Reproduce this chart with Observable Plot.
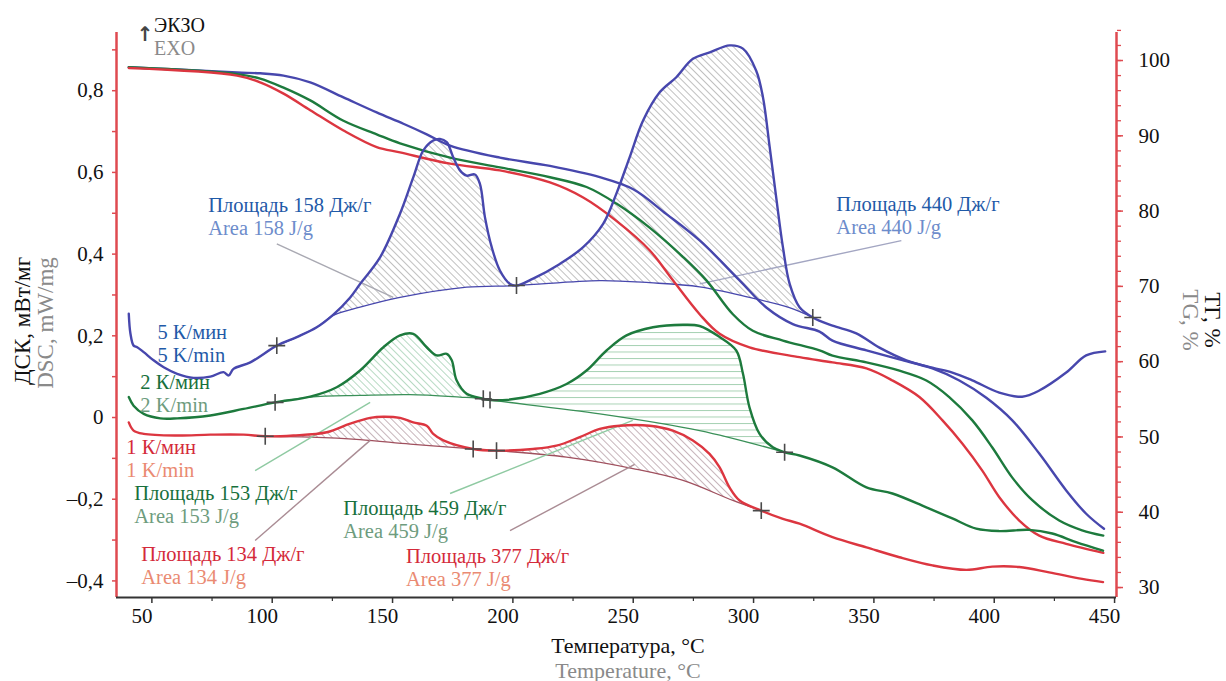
<!DOCTYPE html>
<html><head><meta charset="utf-8">
<script src="https://cdn.jsdelivr.net/npm/d3@7"></script>
<script src="https://cdn.jsdelivr.net/npm/@observablehq/plot@0.6"></script>
<style>
body{margin:0;background:#fff}
svg{font-family:"Liberation Serif","Times New Roman",serif}
</style>
</head><body><div id="chart"></div>
<script>
// ---------- DATA (temperature °C, value) ----------
// DSC, mW/mg
const dsc5 = [[40.4,0.254],[41.1,0.205],[42.4,0.176],[43.9,0.172],[46.6,0.160],[50.7,0.140],[54.9,0.123],[60.5,0.107],[67.3,0.097],[74.3,0.100],[79.8,0.111],[81.9,0.103],[83.9,0.119],[90.9,0.135],[101.9,0.176],[110.2,0.197],[118.5,0.221],[125.4,0.252],[132.4,0.294],[136.5,0.327],[144.8,0.392],[153.1,0.499],[158.6,0.588],[162.8,0.654],[166.9,0.678],[169.7,0.682],[172.5,0.674],[175.2,0.637],[178.0,0.605],[180.8,0.592],[184.2,0.595],[186.3,0.572],[188.4,0.490],[191.2,0.417],[194.6,0.360],[198.8,0.327],[201.5,0.323],[208.4,0.340],[219.5,0.376],[229.2,0.417],[237.5,0.474],[243.0,0.548],[248.5,0.637],[254.1,0.727],[261.0,0.796],[267.9,0.833],[274.8,0.878],[281.8,0.894],[290.1,0.911],[295.6,0.903],[301.1,0.849],[303.9,0.784],[306.7,0.662],[309.4,0.539],[312.2,0.417],[315.0,0.327],[319.1,0.270],[324.6,0.245],[332.8,0.225],[342.7,0.206],[352.3,0.171],[363.5,0.140],[374.3,0.122],[382.6,0.110],[390.9,0.091],[402.1,0.061],[411.6,0.051],[418.7,0.066],[429.9,0.110],[438.2,0.152],[446.1,0.162]];
const base5 = [[101.9,0.176],[110.2,0.197],[118.5,0.221],[125.4,0.250],[136.5,0.270],[153.1,0.294],[180.8,0.319],[201.5,0.323],[236.1,0.335],[256.8,0.330],[277.6,0.320],[298.3,0.294],[314.9,0.269],[324.6,0.245]];
const dsc2 = [[40.4,0.050],[42.4,0.029],[46.6,0.009],[53.5,-0.002],[60.5,-0.002],[74.3,0.005],[88.1,0.021],[101.2,0.037],[115.8,0.051],[126.8,0.074],[136.5,0.115],[146.2,0.172],[153.1,0.201],[158.6,0.205],[164.2,0.172],[168.3,0.152],[172.5,0.156],[174.6,0.140],[176.6,0.091],[180.8,0.058],[187.7,0.046],[190.5,0.043],[197.4,0.043],[211.2,0.058],[222.3,0.082],[230.6,0.115],[238.9,0.164],[247.2,0.201],[258.2,0.221],[270.7,0.227],[277.6,0.224],[285.9,0.197],[292.8,0.164],[295.6,0.107],[298.3,0.025],[302.5,-0.040],[308.0,-0.073],[312.9,-0.085],[319.1,-0.093],[332.8,-0.122],[346.9,-0.171],[357.7,-0.186],[371.8,-0.220],[382.6,-0.247],[392.5,-0.272],[402.1,-0.278],[414.5,-0.275],[424.1,-0.284],[434.0,-0.305],[445.2,-0.326]];
const base2 = [[101.2,0.037],[115.8,0.050],[136.5,0.054],[157.3,0.056],[178.0,0.050],[187.7,0.046],[190.5,0.043],[236.1,0.009],[277.6,-0.032],[312.9,-0.085]];
const dsc1 = [[40.4,-0.012],[42.4,-0.032],[46.6,-0.040],[60.5,-0.044],[74.3,-0.042],[88.1,-0.042],[97.1,-0.046],[108.8,-0.044],[122.7,-0.036],[132.4,-0.015],[140.7,-0.001],[146.2,0.002],[153.1,-0.001],[158.6,-0.012],[164.2,-0.020],[166.9,-0.040],[171.1,-0.056],[183.5,-0.077],[193.2,-0.081],[208.4,-0.077],[218.1,-0.069],[227.8,-0.048],[236.1,-0.028],[244.4,-0.020],[256.8,-0.020],[266.5,-0.032],[274.8,-0.056],[281.7,-0.089],[285.9,-0.122],[290.0,-0.171],[294.2,-0.203],[303.2,-0.228],[312.2,-0.248],[319.1,-0.260],[332.8,-0.293],[346.9,-0.318],[360.6,-0.342],[374.3,-0.362],[388.4,-0.373],[399.2,-0.365],[410.4,-0.366],[422.8,-0.379],[436.5,-0.395],[445.2,-0.403]];
const base1 = [[97.1,-0.046],[115.8,-0.048],[136.5,-0.054],[157.3,-0.065],[183.5,-0.077],[193.2,-0.081],[222.3,-0.097],[249.9,-0.125],[270.7,-0.154],[291.4,-0.203],[303.2,-0.228]];

// TG, %
const tg5 = [[40.4,99.1],[60.5,98.8],[85.4,98.4],[95.0,98.3],[104.7,98.0],[115.8,97.1],[129.6,95.1],[143.4,93.1],[154.5,91.6],[164.2,90.2],[173.9,88.7],[194.6,87.1],[215.4,86.0],[236.1,84.5],[250.0,82.9],[263.8,79.6],[277.6,76.1],[294.2,70.8],[305.3,67.2],[316.3,65.0],[327.4,64.0],[332.8,62.8],[346.9,61.5],[360.6,60.3],[374.3,59.1],[385.5,57.5],[396.7,55.2],[407.5,52.2],[418.7,47.8],[429.9,42.9],[438.2,39.8],[445.6,37.8]];
const tg2 = [[40.4,99.1],[85.4,98.2],[95.0,97.6],[104.7,96.4],[115.8,94.7],[129.6,92.0],[143.4,90.2],[153.1,89.0],[173.9,87.1],[194.6,85.8],[215.4,84.5],[230.6,83.2],[243.0,81.0],[256.8,77.8],[270.7,73.9],[280.4,70.8],[291.4,66.3],[299.7,64.1],[312.2,62.8],[327.4,61.5],[332.8,60.8],[346.9,59.9],[360.6,58.8],[371.8,57.5],[381.3,55.3],[390.9,52.2],[399.2,48.6],[407.5,44.6],[415.8,41.6],[427.0,38.9],[436.5,37.6],[445.3,36.9]];
const tg1 = [[40.4,99.0],[85.4,98.0],[95.0,97.1],[104.7,95.6],[115.8,93.4],[129.6,90.7],[143.4,88.5],[153.1,87.8],[173.9,86.3],[194.6,85.4],[215.4,83.8],[229.2,81.8],[243.0,78.7],[256.8,74.8],[266.5,70.8],[277.6,66.3],[285.9,63.7],[298.3,61.9],[319.1,60.6],[332.8,59.9],[346.9,59.1],[357.7,57.5],[368.9,55.3],[378.5,52.2],[386.8,49.1],[395.1,45.5],[402.1,42.0],[410.4,38.9],[418.7,36.9],[429.9,35.8],[445.3,34.6]];

// integration limits (+ markers)
const limits5 = [[101.9,0.176],[201.5,0.323],[324.6,0.245]];
const limits2 = [[101.2,0.037],[187.7,0.046],[190.5,0.043],[312.9,-0.085]];
const limits1 = [[97.1,-0.046],[183.5,-0.077],[193.2,-0.081],[303.2,-0.228]];

// peak areas: [series, from °C, to °C, hatch]
const peakAreas = [
  ["5", 101.9, 201.5, "hGray"], ["5", 201.5, 324.6, "hGray"],
  ["2", 101.2, 187.7, "hGreen"], ["2", 190.5, 312.9, "hGreenH"],
  ["1", 97.1, 183.5, "hRed"], ["1", 193.2, 303.2, "hRed"]
];

// annotation texts [°C, DSC, text, colour]
const blueRu="#1f5aa8", blueEn="#6d8ccb", greenRu="#17703c", greenEn="#6e9c7e", redRu="#d42a3a", redEn="#ea8a72";
const labels = [
  [73.4,0.519,"Площадь 158 Дж/г",blueRu],[73.4,0.4627,"Area 158 J/g",blueEn],
  [334.4,0.5214,"Площадь 440 Дж/г",blueRu],[334.4,0.4651,"Area 440 J/g",blueEn],
  [52.3,0.2093,"5 К/мин",blueRu],[52.3,0.153,"5 K/min",blueRu],
  [45.2,0.0857,"2 К/мин",greenRu],[45.2,0.0294,"2 K/min",greenEn],
  [39.4,-0.0734,"1 К/мин",redRu],[39.4,-0.1297,"1 K/min",redEn],
  [42.7,-0.186,"Площадь 153 Дж/г",greenRu],[42.7,-0.2424,"Area 153 J/g",greenEn],
  [45.6,-0.3341,"Площадь 134 Дж/г",redRu],[45.6,-0.3905,"Area 134 J/g",redEn],
  [129.5,-0.2215,"Площадь 459 Дж/г",greenRu],[129.5,-0.2778,"Area 459 J/g",greenEn],
  [155.6,-0.339,"Площадь 377 Дж/г",redRu],[155.6,-0.3953,"Area 377 J/g",redEn]
];
// leader lines [°C1, DSC1, °C2, DSC2, colour]
const leaders = [
  [101.9,0.425,150.3,0.294,"#a9a9b2"],
  [361.4,0.433,277.6,0.327,"#a3a6c2"],
  [92.9,-0.130,140.7,0.037,"#8fcaa2"],
  [92.9,-0.301,140.7,-0.056,"#aa8c94"],
  [173.9,-0.186,249.8,-0.007,"#8fcaa2"],
  [198.8,-0.277,250.6,-0.115,"#aa8c94"]
];

// axes
const xTicks = [50,100,150,200,250,300,350,400,450];
const xMinor = [75,125,175,225,275,325,375,425];
const dscTicks = [-0.4,-0.2,0,0.2,0.4,0.6,0.8];
const dscMinor = [-0.4,-0.3,-0.2,-0.1,0,0.1,0.2,0.3,0.4,0.5,0.6,0.7,0.8,0.9];
const tgTicks = [30,40,50,60,70,80,90,100];
const tgMinor = d3.range(30, 105, 2);
const X_DOMAIN = [35.3, 450.8];
const Y_DOMAIN = [-0.4406, 0.9425];
const TG_RANGE = [30, 100], TG_IN_DSC = [-0.4162, 0.8739];

// ---------- CHART ----------
const tg2d = d3.scaleLinear().domain(TG_RANGE).range(TG_IN_DSC);
const cBlue="#4747ad", cGreen="#1d7a3d", cRed="#dc3640", axisRed="#df4a50";
const series = {"5": [dsc5, base5], "2": [dsc2, base2], "1": [dsc1, base1]};
function polygon([s, a, b]) {
  const [curve, base] = series[s];
  const inR = d => d[0] >= a - 1e-9 && d[0] <= b + 1e-9;
  return curve.filter(inR).concat(base.filter(inR).reverse());
}
const X = d => d[0], Y = d => d[1];
const fmtDsc = d => d === 0 ? "0" : (d < 0 ? "–" : "") + Math.abs(d).toFixed(1).replace(".", ",");

const plot = Plot.plot({
  width: 1226, height: 681,
  marginLeft: 116, marginRight: 110, marginTop: 32, marginBottom: 84,
  style: {fontFamily: '"Liberation Serif", serif', fontSize: "21px", background: "#fff", color: "#111", overflow: "visible"},
  x: {domain: X_DOMAIN, axis: null},
  y: {domain: Y_DOMAIN, axis: null},
  color: {type: "identity"},
  marks: [
    ...peakAreas.map(p => Plot.line(polygon(p), {x: X, y: Y, fill: `url(#${p[3]})`, stroke: "none", curve: "linear"})),
    Plot.line(base5, {x: X, y: Y, stroke: cBlue, strokeWidth: 1.3, curve: "catmull-rom"}),
    Plot.line(base2, {x: X, y: Y, stroke: "#3a9058", strokeWidth: 1.3, curve: "catmull-rom"}),
    Plot.line(base1, {x: X, y: Y, stroke: "#a0505e", strokeWidth: 1.3, curve: "catmull-rom"}),
    Plot.link(leaders, {x1: d => d[0], y1: d => d[1], x2: d => d[2], y2: d => d[3], stroke: d => d[4], strokeWidth: 1.4}),
    Plot.line(tg5, {x: X, y: d => tg2d(d[1]), stroke: cBlue, strokeWidth: 2.4, curve: "catmull-rom"}),
    Plot.line(tg2, {x: X, y: d => tg2d(d[1]), stroke: cGreen, strokeWidth: 2.4, curve: "catmull-rom"}),
    Plot.line(tg1, {x: X, y: d => tg2d(d[1]), stroke: cRed, strokeWidth: 2.4, curve: "catmull-rom"}),
    Plot.line(dsc5, {x: X, y: Y, stroke: cBlue, strokeWidth: 2.4, curve: "catmull-rom"}),
    Plot.line(dsc2, {x: X, y: Y, stroke: cGreen, strokeWidth: 2.4, curve: "catmull-rom"}),
    Plot.line(dsc1, {x: X, y: Y, stroke: cRed, strokeWidth: 2.4, curve: "catmull-rom"}),
    Plot.dot([...limits5, ...limits2, ...limits1], {x: X, y: Y, symbol: "plus", r: 5.5, stroke: "#4a4a4a", strokeWidth: 1.6}),
    // frame
    Plot.ruleX([X_DOMAIN[0]], {stroke: axisRed, strokeWidth: 2.5}),
    Plot.ruleX([X_DOMAIN[1]], {stroke: axisRed, strokeWidth: 2.5}),
    Plot.ruleY([Y_DOMAIN[0]], {stroke: "#333", strokeWidth: 2}),
    // bottom axis
    Plot.axisX(xTicks, {anchor: "bottom", tickSize: 6, stroke: "#333", strokeWidth: 1.5, fill: "none", label: null}),
    Plot.axisX(xMinor, {anchor: "bottom", tickSize: 4, stroke: "#333", strokeWidth: 1.2, fill: "none", label: null}),
    Plot.axisX(xTicks, {anchor: "bottom", tickSize: 6, tickPadding: 5, stroke: "none", fill: "#111", fontSize: 21, dx: -10, tickFormat: d => String(d), label: null}),
    // left axis
    Plot.axisY(dscMinor, {anchor: "left", tickSize: 4, stroke: axisRed, strokeWidth: 1.5, fill: "none", label: null}),
    Plot.axisY(dscTicks, {anchor: "left", tickSize: 4, tickPadding: 9, stroke: "none", fill: "#111", fontSize: 21, tickFormat: fmtDsc, label: null}),
    // right axis (TG)
    Plot.axisY(tgMinor.map(tg2d), {anchor: "right", tickSize: 4, stroke: axisRed, strokeWidth: 1.3, fill: "none", label: null}),
    Plot.axisY(tgTicks.map(tg2d), {anchor: "right", tickSize: 6, stroke: axisRed, strokeWidth: 1.5, fill: "none", label: null}),
    Plot.axisY(tgTicks.map(tg2d), {anchor: "right", tickSize: 6, tickPadding: 16, stroke: "none", fill: "#111", fontSize: 21, tickFormat: d => String(Math.round(tg2d.invert(d))), label: null}),
    // annotations
    Plot.text(labels, {x: d => d[0], y: d => d[1], text: d => d[2], fill: d => d[3], textAnchor: "start", fontSize: 20.5})
  ]
});

const svg = d3.select(plot);
const defs = svg.insert("defs", ":first-child");
function hatch(id, color, angle, gap, w) {
  const p = defs.append("pattern").attr("id", id).attr("patternUnits", "userSpaceOnUse")
    .attr("width", gap).attr("height", gap).attr("patternTransform", `rotate(${angle})`);
  p.append("line").attr("x1", 0).attr("y1", -1).attr("x2", 0).attr("y2", gap + 1)
    .attr("stroke", color).attr("stroke-width", w);
}
hatch("hGray", "#9d9d9d", -45, 5, 1.3);
hatch("hGreen", "#90c6a2", -45, 5, 1.3);
hatch("hRed", "#a98d95", -45, 5, 1.3);
hatch("hGreenH", "#a6d1b3", 90, 6.5, 2);

function txt(str, x, y, opts = {}) {
  const t = svg.append("text").text(str)
    .attr("transform", `translate(${x},${y})${opts.rot ? ` rotate(${opts.rot})` : ""}`)
    .attr("text-anchor", opts.anchor || "middle")
    .attr("dominant-baseline", "central")
    .attr("font-size", opts.size || 23)
    .attr("fill", opts.fill || "#111");
  if (opts.family) t.attr("font-family", opts.family);
  if (opts.weight) t.attr("font-weight", opts.weight);
  return t;
}
txt("ДСК, мВт/мг", 22, 321, {rot: -90});
txt("DSC, mW/mg", 45, 323, {rot: -90, fill: "#8a8a8a"});
txt("ТГ, %", 1212, 320, {rot: 90});
txt("TG, %", 1190, 320, {rot: 90, fill: "#8a8a8a"});
txt("Температура, °C", 628, 645, {size: 22});
txt("Temperature, °C", 628, 670, {size: 22, fill: "#8a8a8a"});
txt("↑", 145, 34, {size: 20, fill: "#444", family: "DejaVu Sans", weight: "bold"});
txt("ЭКЗО", 154, 24.5, {size: 20, anchor: "start"});
txt("EXO", 154, 47.5, {size: 20, anchor: "start", fill: "#8a8a8a"});

document.getElementById("chart").append(plot);
</script>
</body></html>
